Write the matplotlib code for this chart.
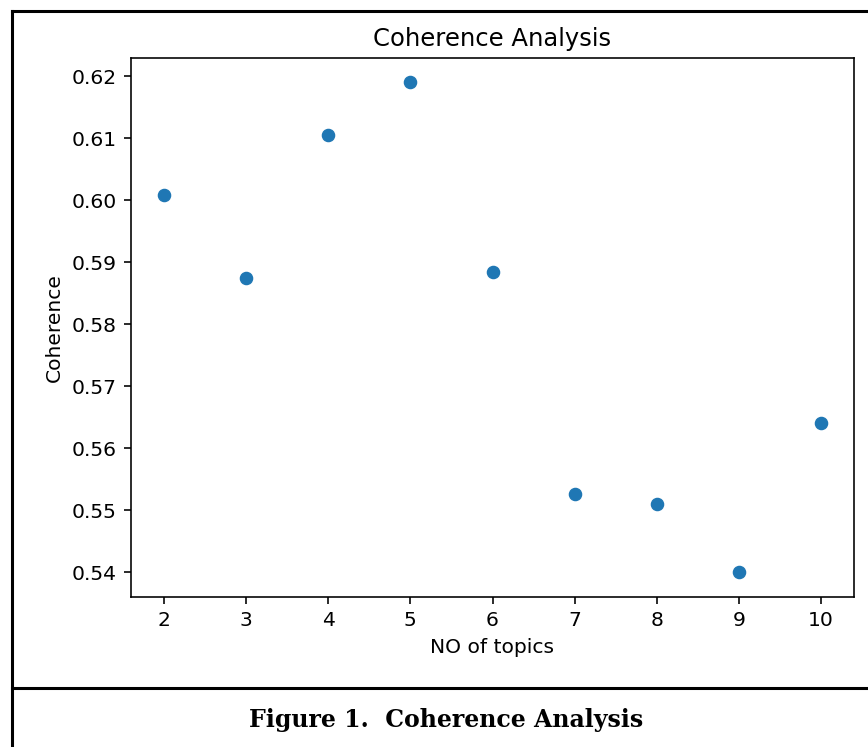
import matplotlib
matplotlib.use("Agg")
import matplotlib.pyplot as plt
from matplotlib.lines import Line2D

topics = [2, 3, 4, 5, 6, 7, 8, 9, 10]
coherence = [0.6008, 0.5874, 0.6106, 0.6190, 0.5884, 0.5526, 0.5511, 0.5400, 0.5641]

W, H = 868, 747
fig = plt.figure(figsize=(W / 100, H / 100), dpi=100)
s = 1.458

ax = fig.add_axes([131 / W, 1 - 597 / H, (854 - 131) / W, (597 - 58) / H])
ax.scatter(topics, coherence, s=36 * s * s, color="#1f77b4")
ax.set_title("Coherence Analysis", fontsize=12 * s, pad=6 * s)
ax.set_xlabel("NO of topics", fontsize=10 * s, labelpad=4 * s)
ax.set_ylabel("Coherence", fontsize=10 * s, labelpad=4 * s)
ax.tick_params(labelsize=10 * s, length=3.5 * s, width=0.8 * s, pad=3.5 * s)
for sp in ax.spines.values():
    sp.set_linewidth(0.8 * s)

# document frame
lw = 2.2
fig.add_artist(Line2D([12 / W, 12 / W], [0, 1 - 11 / H], transform=fig.transFigure, color="black", lw=lw))
fig.add_artist(Line2D([12 / W, 1], [1 - 11 / H, 1 - 11 / H], transform=fig.transFigure, color="black", lw=lw))
fig.add_artist(Line2D([12 / W, 1], [1 - 688 / H, 1 - 688 / H], transform=fig.transFigure, color="black", lw=lw))

fig.text(446 / W, 1 - 720 / H, "Figure 1.  Coherence Analysis", ha="center", va="center",
         fontsize=17, fontweight="bold", family="DejaVu Serif")

fig.savefig("out.png", dpi=100)
